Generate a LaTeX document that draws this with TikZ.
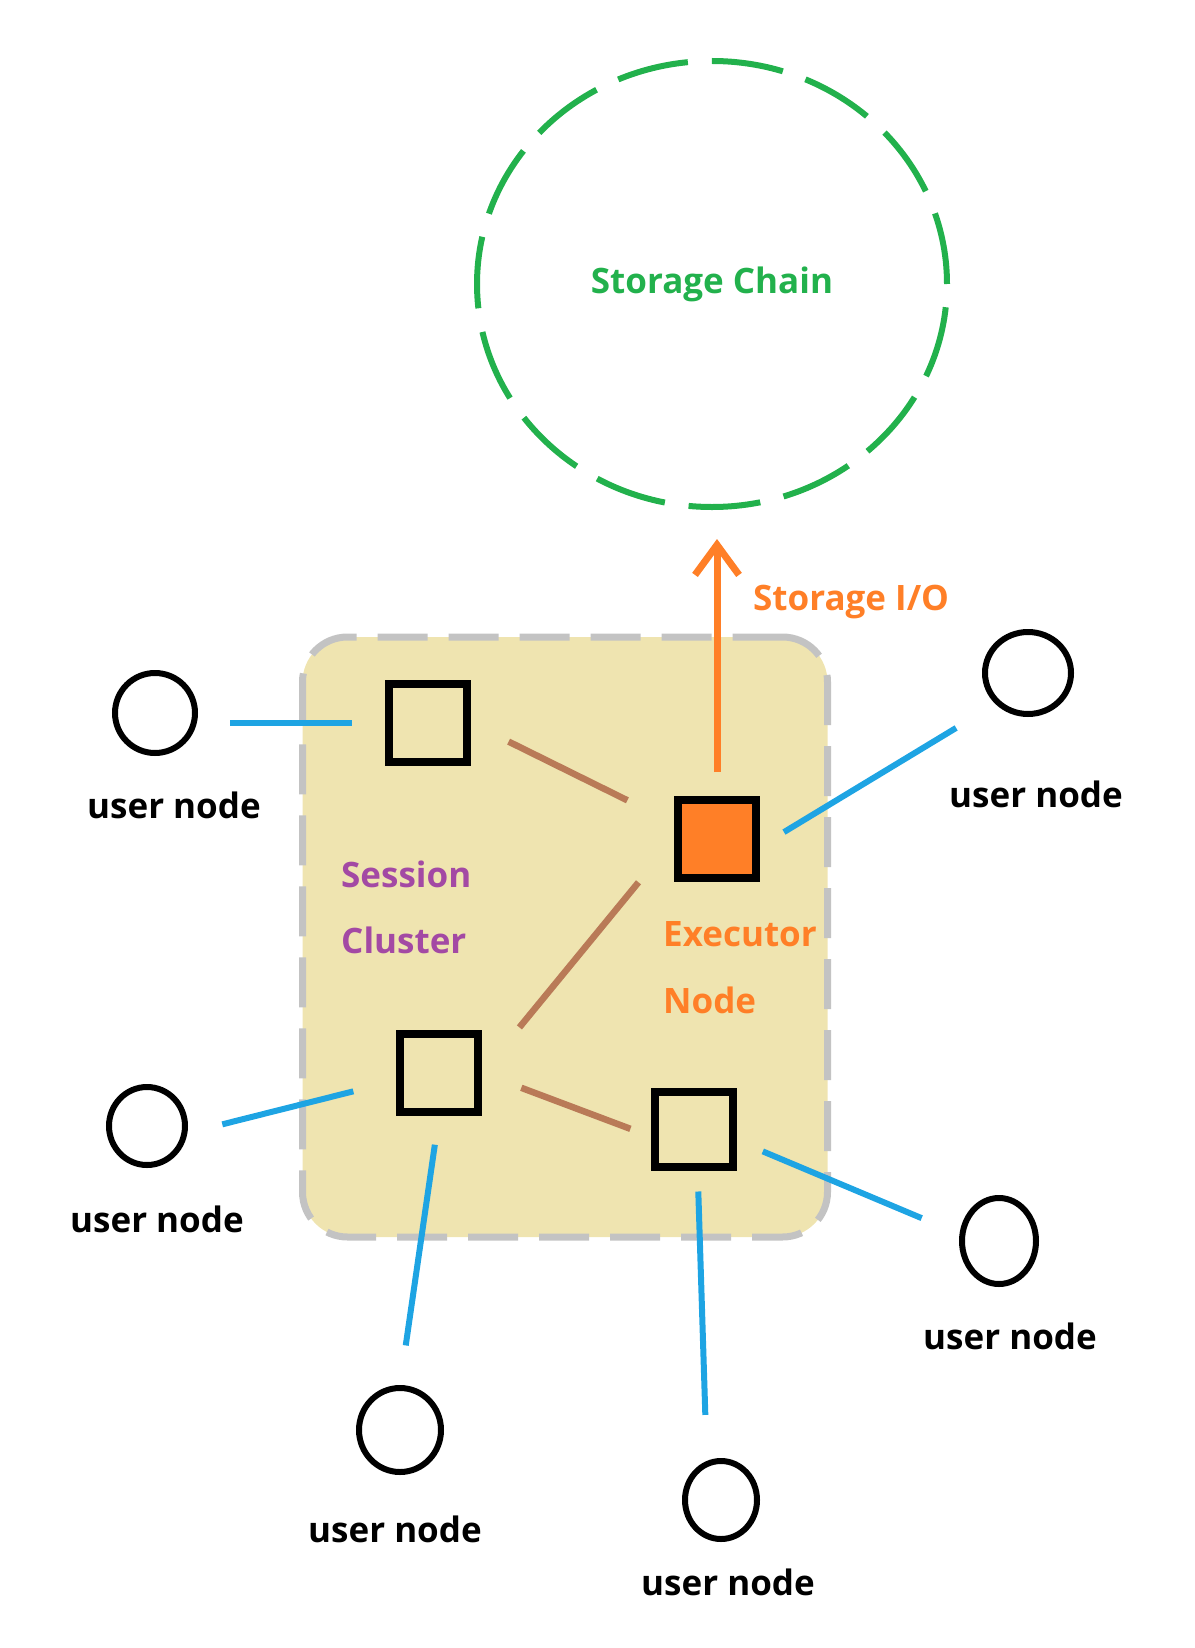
\documentclass[tikz,border=0pt]{standalone}
\usepackage{fontspec}
\setmainfont{Open Sans}
\usepackage{tikz}
\usetikzlibrary{shapes,arrows.meta}
\definecolor{chaingreen}{HTML}{22B14C}
\definecolor{iorange}{HTML}{FF7F27}
\definecolor{linkblue}{HTML}{1EA4E3}
\definecolor{linkbrown}{HTML}{B97A57}
\definecolor{clusterpurple}{HTML}{A349A4}
\definecolor{clustertan}{HTML}{EFE4B0}
\definecolor{clustergray}{HTML}{C3C3C3}
\tikzstyle{usernode} = [draw, ellipse, line width=6pt, inner sep=0pt, minimum width=80pt, minimum height=80pt]
\tikzstyle{peer} = [draw, rectangle, line width=8pt, fill=clustertan, inner sep=0pt, minimum size=78pt]
\tikzstyle{lbl} = [inner sep=0pt, font=\bfseries\fontsize{35}{40}\selectfont]
\tikzset{
  userlink/.style ={draw=linkblue, line width=6pt},
  peerlink/.style ={draw=linkbrown, line width=6.5pt}
}

\begin{document}
\begin{tikzpicture}[x=1pt,y=-1pt]
  \useasboundingbox (0,0) rectangle (1194,1648);

  % session cluster
  \node[draw=clustergray, fill=clustertan, line width=7pt, dash pattern=on 50pt off 21pt,
        rounded corners=45pt, minimum width=525pt, minimum height=600pt] (cluster) at (565,937) {};
  \node[lbl, text=clusterpurple, anchor=base west] (session) at (341,887) {Session};
  \node[lbl, text=clusterpurple, anchor=base west] (clusterlbl) at (341,953) {Cluster};

  % storage chain
  \node[draw=chaingreen, ellipse, line width=6pt, dash pattern=on 72pt off 24pt,
        minimum width=470pt, minimum height=446pt, lbl, text=chaingreen] (chain) at (712,284) {Storage Chain};

  % nodes in the cluster
  \node[peer] (s1) at (428,723) {};
  \node[peer, fill=iorange] (exec) at (717,839) {};
  \node[peer] (s2) at (439,1073) {};
  \node[peer, minimum height=75pt] (s3) at (694,1129) {};
  \node[lbl, text=iorange, anchor=base west] (execlbl) at (663,946) {Executor};
  \node[lbl, text=iorange, anchor=base west] (execnode) at (663,1013) {Node};

  % user nodes
  \node[usernode] (u1) at (155,713) {};
  \node[usernode, minimum width=86pt, minimum height=82pt] (u2) at (1028,673) {};
  \node[usernode, minimum width=76pt, minimum height=78pt] (u3) at (147,1126) {};
  \node[usernode, minimum width=82pt, minimum height=84pt] (u4) at (400,1430) {};
  \node[usernode, minimum width=72pt, minimum height=78pt] (u5) at (721,1500) {};
  \node[usernode, minimum width=74pt, minimum height=86pt] (u6) at (999,1241) {};
  \node[lbl, anchor=base] (l1) at (174,818) {user node};
  \node[lbl, anchor=base] (l2) at (1036,807) {user node};
  \node[lbl, anchor=base] (l3) at (157,1232) {user node};
  \node[lbl, anchor=base] (l4) at (395,1542) {user node};
  \node[lbl, anchor=base] (l5) at (728,1595) {user node};
  \node[lbl, anchor=base] (l6) at (1010,1349) {user node};

  % storage I/O
  \draw[iorange, line width=7pt, -{Straight Barb[length=30pt,width=44pt]}, shorten <=24pt, shorten >=29pt]
    (exec.north) -- (exec.north |- chain.south);
  \node[lbl, text=iorange, anchor=base west] (io) at (753,610) {Storage I/O};

  \begin{scope}[every path/.style=peerlink]
    \path (s1.east) edge[shorten <=42pt, shorten >=52pt] (exec.160);
    \path (exec.west) edge[shorten <=56pt, shorten >=59pt] (s2.east);
    \path (s2.east) edge[shorten <=42pt, shorten >=22pt] (s3.190);
  \end{scope}

  \begin{scope}[every path/.style=userlink]
    \path (u1.east |- s1.west) edge[shorten <=32pt, shorten >=33pt] (s1.west);
    \path (exec.-10) edge[shorten <=28pt, shorten >=46pt] (u2.south west);
    \path (u3.-10) edge[shorten <=36pt, shorten >=44pt] (s2.190);
    \path (s2.south) edge[shorten <=29pt, shorten >=40pt] (u4.north);
    \path (s3.-85) edge[shorten <=21pt, shorten >=46pt] (u5.110);
    \path (s3.-15) edge[shorten <=28pt, shorten >=41pt] (u6.170);
  \end{scope}

\end{tikzpicture}
\end{document}
